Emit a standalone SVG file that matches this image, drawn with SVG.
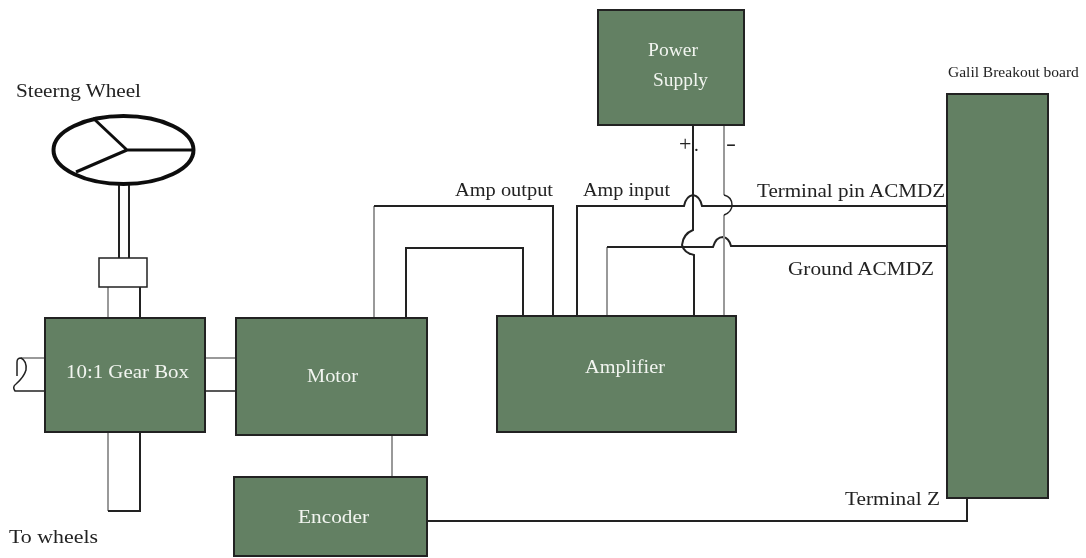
<svg xmlns="http://www.w3.org/2000/svg" width="1086" height="558" viewBox="0 0 1086 558">
<defs><filter id="soft" x="-2%" y="-2%" width="104%" height="104%"><feGaussianBlur stdDeviation="0.45"/></filter></defs>
<style>
.box{fill:#638064;stroke:#222;stroke-width:2}
.d{fill:none;stroke:#222;stroke-width:2}
.g{fill:none;stroke:#999;stroke-width:2}
text{font-family:"Liberation Serif","Times New Roman",serif;font-size:19px;fill:#222}
.w{fill:#f2f5f0}
</style>
<rect width="1086" height="558" fill="#fff"/>
<g filter="url(#soft)">
<g id="connectors">
<path class="d" d="M119 185V258M129 185V258"/>
<path class="g" d="M108 287V318M108 432V511"/>
<path class="d" d="M140 287V318M140 432V511H108"/>
<path class="g" d="M45 358H21M205 358H236"/>
<path class="d" d="M45 391H15Q12 387 16 384Q24 377 26 370Q27 361 21 358Q17 358 17 362V376M205 391H236" style="stroke-width:1.5"/>
<path class="g" d="M374 318V206"/>
<path class="d" d="M374 206H553V316M406 318V248H523V316M577 316V206H684Q686 196 693 195Q700 196 702 206H947"/>
<path class="g" d="M607 316V247"/>
<path class="d" d="M607 247H713Q716 237 723 237Q729 238 731 246H947"/>
<path class="d" d="M693 125V230Q683 234 682 245Q684 253 694 255V316"/>
<path class="g" d="M724 125V195M724 215V316"/>
<path class="d" d="M724 195Q732 197 732 205Q732 212 724 215" style="stroke-width:1.5"/>
<path class="g" d="M392 435V477"/>
<path class="d" d="M427 521H967V498"/>
</g>
<g id="steering-wheel">
<ellipse cx="123.500" cy="150" rx="70" ry="34" fill="#fff" stroke="#111" stroke-width="4"/>
<path class="d" d="M127 150H193M127 150L93 118M127 150L76 172" style="stroke-width:3;stroke:#111"/>
<text x="16" y="97" textLength="125" lengthAdjust="spacingAndGlyphs">Steerng Wheel</text>
</g>
<g id="coupling"><rect x="99" y="258" width="48" height="29" fill="#fff" stroke="#222" stroke-width="1.500"/></g>
<g id="gear-box"><rect class="box" x="45" y="318" width="160" height="114"/><text class="w" x="66" y="378" textLength="123" lengthAdjust="spacingAndGlyphs">10:1 Gear Box</text></g>
<g id="motor"><rect class="box" x="236" y="318" width="191" height="117"/><text class="w" x="307" y="382" textLength="51" lengthAdjust="spacingAndGlyphs">Motor</text></g>
<g id="encoder"><rect class="box" x="234" y="477" width="193" height="79"/><text class="w" x="298" y="523" textLength="71" lengthAdjust="spacingAndGlyphs">Encoder</text></g>
<g id="amplifier"><rect class="box" x="497" y="316" width="239" height="116"/><text class="w" x="585" y="373" textLength="80" lengthAdjust="spacingAndGlyphs">Amplifier</text></g>
<g id="power-supply"><rect class="box" x="598" y="10" width="146" height="115"/><text class="w" x="648" y="56" textLength="50" lengthAdjust="spacingAndGlyphs">Power</text><text class="w" x="653" y="86" textLength="55" lengthAdjust="spacingAndGlyphs">Supply</text></g>
<g id="galil-board"><rect class="box" x="947" y="94" width="101" height="404"/><text x="948" y="77" style="font-size:15.500px">Galil Breakout board</text></g>
<g id="labels">
<text x="9" y="543" textLength="89" lengthAdjust="spacingAndGlyphs">To wheels</text>
<text x="455" y="196" textLength="98" lengthAdjust="spacingAndGlyphs">Amp output</text>
<text x="583" y="196" textLength="87" lengthAdjust="spacingAndGlyphs">Amp input</text>
<text x="757" y="197" textLength="188" lengthAdjust="spacingAndGlyphs">Terminal pin ACMDZ</text>
<text x="788" y="275" textLength="146" lengthAdjust="spacingAndGlyphs">Ground ACMDZ</text>
<text x="845" y="505" textLength="95" lengthAdjust="spacingAndGlyphs">Terminal Z</text>
<text x="679" y="151" style="font-size:22px">+</text>
<text x="694" y="151">.</text>
<text x="726" y="150" textLength="10" lengthAdjust="spacingAndGlyphs" style="font-size:22px">-</text>
</g>
</g>
</svg>
